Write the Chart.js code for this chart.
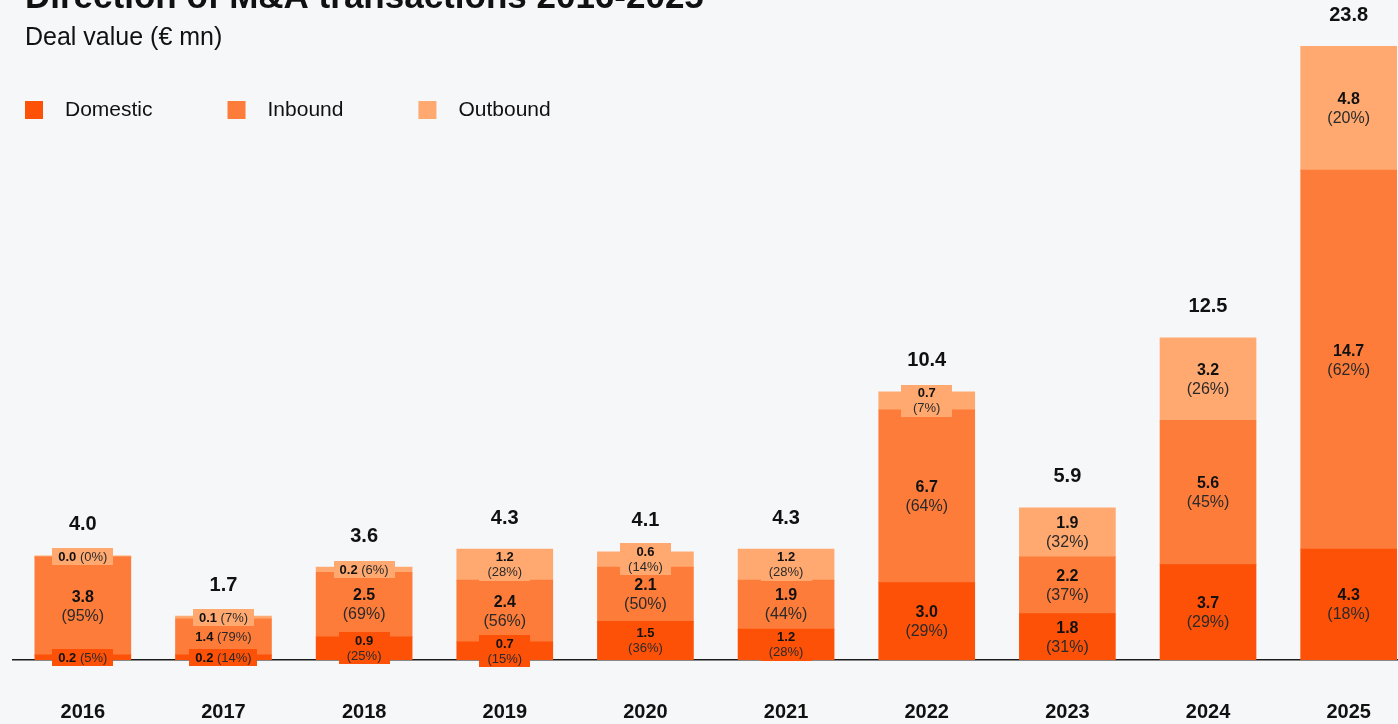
<!DOCTYPE html>
<html>
<head>
<meta charset="utf-8">
<title>Direction of M&amp;A transactions 2016-2025</title>
<script src="https://cdn.jsdelivr.net/npm/chart.js@4/dist/chart.umd.min.js"></script>
<style>
  html, body {
    margin: 0;
    padding: 0;
    width: 1398px;
    height: 724px;
    overflow: hidden;
    background: #f6f7f9;
  }
  /* the plot runs a little past the right edge of the page */
  #wrap {
    position: absolute;
    left: 0;
    top: 0;
    width: 1420px;
    height: 724px;
  }
</style>
</head>
<body>
<div id="wrap"><canvas id="deals"></canvas></div>
<script>
// deal value in € mn, by direction
var years = ['2016', '2017', '2018', '2019', '2020', '2021', '2022', '2023', '2024', '2025'];
var domestic = [0.2, 0.2, 0.9, 0.7, 1.5, 1.2, 3.0, 1.8, 3.7, 4.3];
var inbound = [3.8, 1.4, 2.5, 2.4, 2.1, 1.9, 6.7, 2.2, 5.6, 14.7];
var outbound = [0.0, 0.1, 0.2, 1.2, 0.6, 1.2, 0.7, 1.9, 3.2, 4.8];

// share of the year's total, in %
var domesticShare = [5, 14, 25, 15, 36, 28, 29, 31, 29, 18];
var inboundShare = [95, 79, 69, 56, 50, 44, 64, 37, 45, 62];
var outboundShare = [0, 7, 6, 28, 14, 28, 7, 32, 26, 20];

var totals = [4.0, 1.7, 3.6, 4.3, 4.1, 4.3, 10.4, 5.9, 12.5, 23.8];

var FONT = '"Liberation Sans", Arial, Helvetica, sans-serif';
var INK = '#111111';
var INK_SOFT = '#2a2a2a';

// title, subtitle and legend, drawn straight onto the canvas
var header = {
  id: 'header',
  afterDraw: function (chart) {
    var ctx = chart.ctx;
    ctx.save();
    ctx.fillStyle = INK;
    ctx.textAlign = 'left';
    ctx.textBaseline = 'alphabetic';
    ctx.font = 'bold 35px ' + FONT;
    ctx.fillText('Direction of M&A transactions 2016-2025', 25, 8);
    ctx.font = '25px ' + FONT;
    ctx.fillText('Deal value (€ mn)', 25, 45);

    ctx.font = '21px ' + FONT;
    ctx.textBaseline = 'middle';
    var x = 25;
    chart.data.datasets.forEach(function (ds) {
      ctx.fillStyle = ds.backgroundColor;
      ctx.fillRect(x, 101, 18, 18);
      ctx.fillStyle = INK;
      ctx.fillText(ds.label, x + 40, 110);
      x += 40 + ctx.measureText(ds.label).width + 75;
    });
    ctx.restore();
  }
};

function drawSegmentLabel(ctx, bar, value, share, color, inline) {
  var big = !inline && value >= 1.7;
  var size = big ? 16 : 13;
  var valText = value.toFixed(1);
  var pctText = '(' + share + '%)';
  var cx = bar.x;
  var cy = (bar.y + bar.base) / 2;

  ctx.font = 'bold ' + size + 'px ' + FONT;
  var vw = ctx.measureText(valText).width;
  ctx.font = size + 'px ' + FONT;
  var pw = ctx.measureText(pctText).width;
  var sw = ctx.measureText(' ').width;

  // a patch in the segment colour keeps small labels readable
  var w, h;
  if (inline) {
    w = vw + sw + pw + 12;
    h = 17;
  } else {
    w = Math.max(Math.max(vw, pw) + 16, 51);
    h = big ? 44 : 32;
  }
  ctx.fillStyle = color;
  ctx.fillRect(Math.round(cx - w / 2), Math.round(cy - h / 2), Math.round(w), h);

  ctx.textBaseline = 'middle';
  if (inline) {
    var x0 = cx - (vw + sw + pw) / 2;
    ctx.textAlign = 'left';
    ctx.font = 'bold ' + size + 'px ' + FONT;
    ctx.fillStyle = INK;
    ctx.fillText(valText, x0, cy + 0.5);
    ctx.font = size + 'px ' + FONT;
    ctx.fillStyle = INK_SOFT;
    ctx.fillText(pctText, x0 + vw + sw, cy + 0.5);
  } else {
    var up = big ? 8.5 : 7;
    var down = big ? 10.5 : 8;
    ctx.textAlign = 'center';
    ctx.font = 'bold ' + size + 'px ' + FONT;
    ctx.fillStyle = INK;
    ctx.fillText(valText, cx, cy - up);
    ctx.font = size + 'px ' + FONT;
    ctx.fillStyle = INK_SOFT;
    ctx.fillText(pctText, cx, cy + down);
  }
}

var barLabels = {
  id: 'barLabels',
  afterDatasetsDraw: function (chart) {
    var ctx = chart.ctx;
    ctx.save();
    chart.data.datasets.forEach(function (ds, di) {
      var meta = chart.getDatasetMeta(di);
      meta.data.forEach(function (bar, i) {
        var v = ds.data[i];
        var inline = v < 0.3 || totals[i] < 2;
        drawSegmentLabel(ctx, bar, v, ds.shares[i], ds.backgroundColor, inline);
      });
    });

    // year totals above each stack
    var top = chart.getDatasetMeta(chart.data.datasets.length - 1);
    ctx.font = 'bold 20px ' + FONT;
    ctx.fillStyle = INK;
    ctx.textAlign = 'center';
    ctx.textBaseline = 'middle';
    top.data.forEach(function (bar, i) {
      ctx.fillText(totals[i].toFixed(1), bar.x, Math.min(bar.y, bar.base) - 31);
    });
    ctx.restore();
  }
};

var dealsChart = new Chart(document.getElementById('deals'), {
  type: 'bar',
  data: {
    labels: years,
    datasets: [{
      label: 'Domestic',
      data: domestic,
      shares: domesticShare,
      backgroundColor: '#fd5108'
    }, {
      label: 'Inbound',
      data: inbound,
      shares: inboundShare,
      backgroundColor: '#fe7c39'
    }, {
      label: 'Outbound',
      data: outbound,
      shares: outboundShare,
      backgroundColor: '#ffa970',
      minBarLength: 2
    }]
  },
  options: {
    responsive: true,
    maintainAspectRatio: false,
    animation: false,
    devicePixelRatio: 1,
    layout: {
      padding: { left: 12.5, right: 1, top: 0, bottom: 0 }
    },
    datasets: {
      bar: {
        barThickness: 96,
        categoryPercentage: 1,
        borderWidth: 0
      }
    },
    plugins: {
      legend: { display: false },
      tooltip: { enabled: false }
    },
    scales: {
      x: {
        stacked: true,
        grid: { display: false, drawTicks: false },
        border: { display: true, color: '#1a1a1a', width: 1.5 },
        ticks: {
          padding: 40,
          color: INK,
          font: { family: FONT, size: 20, weight: 'bold' }
        },
        afterFit: function (scale) {
          scale.height = 64;
        }
      },
      y: {
        stacked: true,
        display: false,
        min: 0,
        max: 25.6
      }
    }
  },
  plugins: [barLabels, header]
});
</script>
</body>
</html>
